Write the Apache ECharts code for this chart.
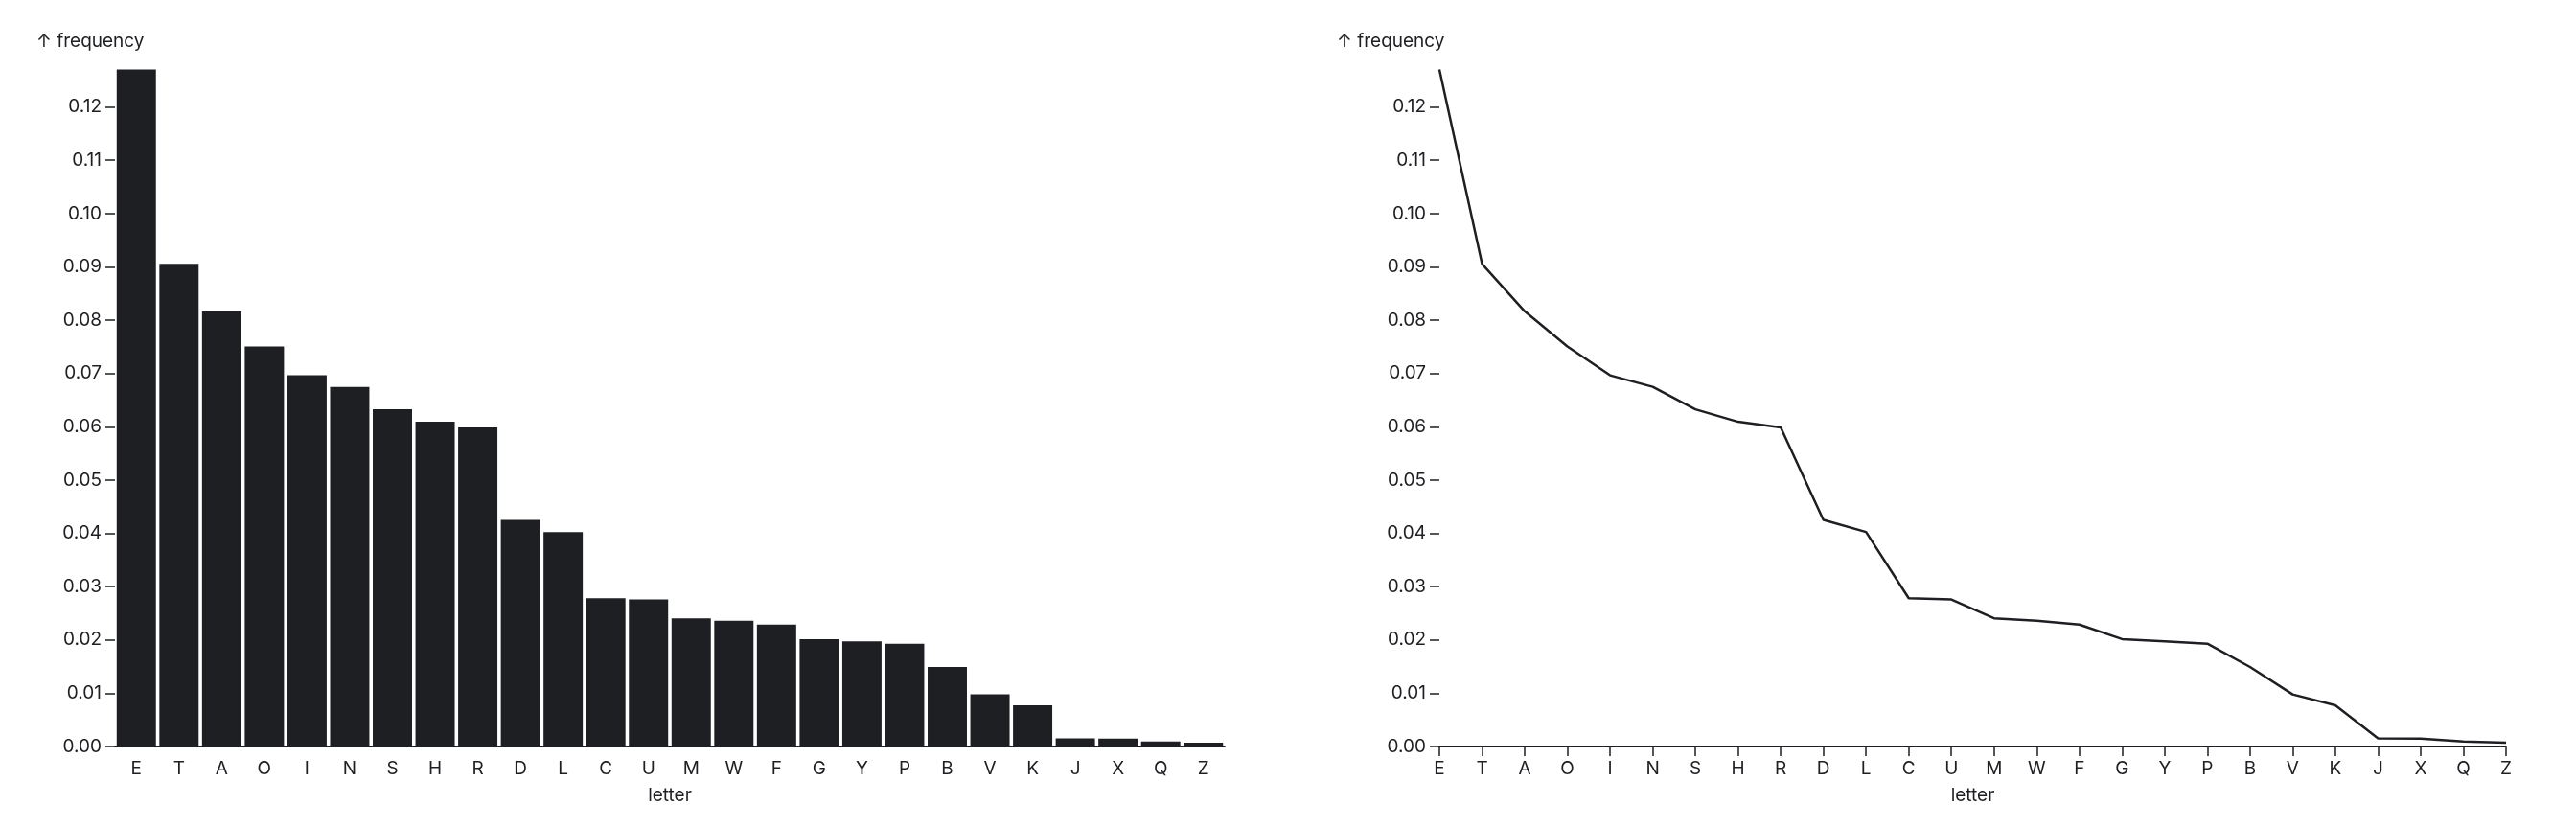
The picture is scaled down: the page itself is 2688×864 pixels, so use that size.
<!DOCTYPE html>
<html><head><meta charset="utf-8">
<script src="https://cdn.jsdelivr.net/npm/echarts@6/dist/echarts.min.js"></script>
<style>html,body{margin:0;background:#fff}#c{width:2688px;height:864px}</style>
</head><body><div id="c"></div>
<script>
const letters = ["E","T","A","O","I","N","S","H","R","D","L","C","U","M","W","F","G","Y","P","B","V","K","J","X","Q","Z"];
const frequency = [0.12702,0.09056,0.08167,0.07507,0.06966,0.06749,0.06327,0.06094,0.05987,0.04253,0.04025,0.02782,0.02758,0.02406,0.0236,0.02288,0.02015,0.01974,0.01929,0.01492,0.00978,0.00772,0.00153,0.0015,0.00095,0.00074];
const yTicks = [0,0.01,0.02,0.03,0.04,0.05,0.06,0.07,0.08,0.09,0.10,0.11,0.12];

const ink = "#1e1f22";
const font = "Inter, 'Noto Sans', sans-serif";
const chart = echarts.init(document.getElementById("c"));

function yAxis(i) {
  return {
    gridIndex: i, type: "value", min: 0, max: 0.13,
    axisLine: { show: false }, splitLine: { show: false },
    axisTick: { show: true, length: 10, customValues: yTicks, lineStyle: { color: ink, width: 1.5 } },
    axisLabel: { customValues: yTicks, formatter: v => v.toFixed(2), color: ink, fontSize: 19, fontFamily: font, margin: 14 }
  };
}
function xAxis(i, gap) {
  return {
    gridIndex: i, type: "category", data: letters, boundaryGap: gap,
    name: "letter", nameLocation: "middle", nameGap: 42,
    nameTextStyle: { color: ink, fontSize: 19, fontFamily: font },
    axisLine: { lineStyle: { color: ink, width: 1.8 } },
    axisTick: { alignWithLabel: true, length: 10, lineStyle: { color: ink, width: 1.5 } },
    axisLabel: { color: ink, fontSize: 19, fontFamily: font, margin: 14, interval: 0 }
  };
}

chart.setOption({
  animation: false,
  grid: [
    { left: 120, right: 1410, top: 56, bottom: 85 },
    { left: 1502, right: 73, top: 56, bottom: 85 }
  ],
  xAxis: [xAxis(0, true), xAxis(1, false)],
  yAxis: [yAxis(0), yAxis(1)],
  graphic: [
    { type: "text", left: 38, top: 34, style: { text: "↑ frequency", fontSize: 19, fontFamily: font, fill: ink } },
    { type: "text", left: 1395, top: 34, style: { text: "↑ frequency", fontSize: 19, fontFamily: font, fill: ink } }
  ],
  series: [
    { type: "bar", xAxisIndex: 0, yAxisIndex: 0, data: frequency, barCategoryGap: "8%", itemStyle: { color: ink } },
    { type: "line", xAxisIndex: 1, yAxisIndex: 1, data: frequency, showSymbol: false, lineStyle: { color: ink, width: 2.5 } }
  ]
});
</script></body></html>
